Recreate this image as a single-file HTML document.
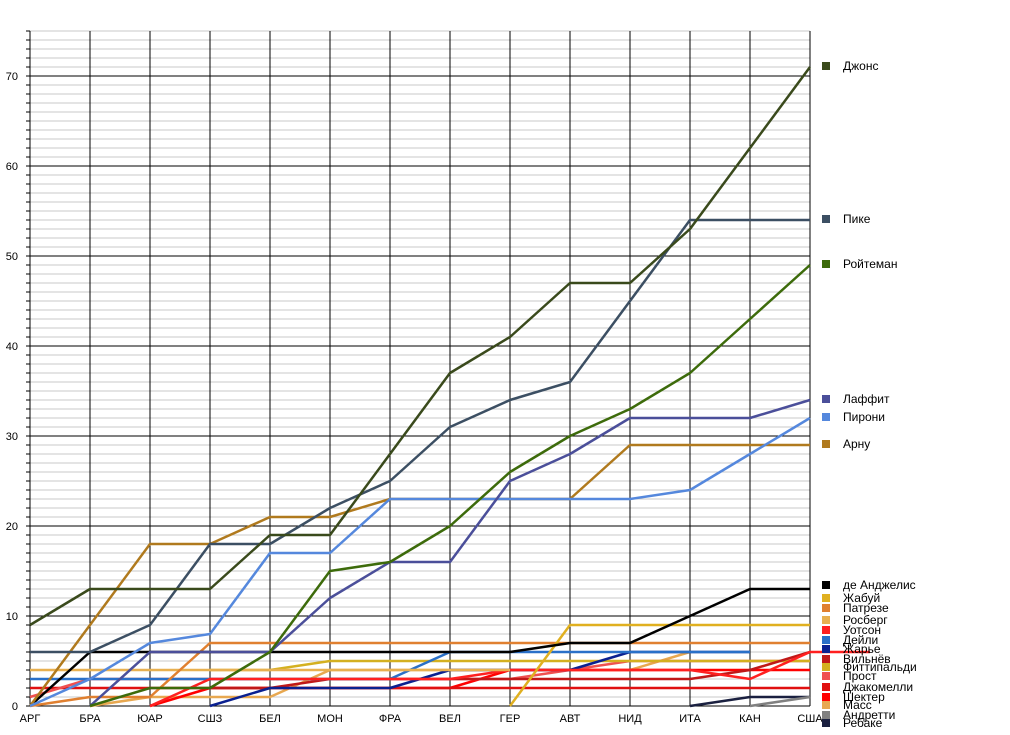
<!DOCTYPE html>
<html><head><meta charset="utf-8"><style>
html,body{margin:0;padding:0;background:#fff;}
svg{display:block;font-family:"Liberation Sans",sans-serif;}
</style></head><body>
<svg id="c" width="1010" height="735" xmlns="http://www.w3.org/2000/svg">
<g id="grid" shape-rendering="crispEdges"></g><g id="series"></g><g id="labels" font-size="11" fill="#000"></g>
<g id="legend" font-size="12" fill="#000"></g>
</svg>
<script>
const NS="http://www.w3.org/2000/svg";
const X=i=>30+60*i, Y=v=>706-9*v;
function el(p,t,a,txt){const e=document.createElementNS(NS,t);for(const k in a)e.setAttribute(k,a[k]);if(txt!==undefined)e.textContent=txt;p.appendChild(e);return e;}
const g=document.getElementById('grid'),s=document.getElementById('series'),L=document.getElementById('labels'),lg=document.getElementById('legend');
for(let v=0;v<=75;v++){if(v%10)el(g,'line',{x1:30,x2:810,y1:Y(v),y2:Y(v),stroke:'#c8c8c8','stroke-width':1});}
for(let v=0;v<=70;v+=10){el(g,'line',{x1:30,x2:810,y1:Y(v),y2:Y(v),stroke:'#000','stroke-width':1});el(L,'text',{x:18,y:Y(v)+4,'text-anchor':'end'},String(v));}
for(let v=0;v<=75;v++)el(g,'line',{x1:26,x2:30,y1:Y(v),y2:Y(v),stroke:'#000'});
const cats=['АРГ','БРА','ЮАР','СШЗ','БЕЛ','МОН','ФРА','ВЕЛ','ГЕР','АВТ','НИД','ИТА','КАН','США'];
cats.forEach((c,i)=>{el(g,'line',{x1:X(i),x2:X(i),y1:31,y2:706,stroke:'#000'});el(L,'text',{x:X(i),y:722,'text-anchor':'middle'},c);});
el(g,'line',{x1:30,x2:30,y1:31,y2:706,stroke:'#000'});
const D=[
['Ребаке','#1a2040',11,[0,1,1],723],
['Андретти','#808080',12,[0,1],715],
['Масс','#e8a850',1,[0,1,1,1,4,4,4,4,4,4,6],705],
['Шектер','#ff0000',2,[0,2,2,2,2,2,4,4,4,4,4,4],697],
['Джакомелли','#e01010',0,[2,2,2,2,2,2,2,2,2,2,2,2,2,2],687],
['Прост','#f05050',0,[1,3,3,3,3,3,3,3,3,4,5,5,5,5],676],
['Фиттипальди','#d4b020',3,[4,4,5,5,5,5,5,5,5,5,5],667],
['Вильнёв','#c01818',3,[2,2,3,3,3,3,3,3,3,4,6],659],
['Жарье','#0a2090',3,[0,2,2,2,4,4,4,6,6,6],649],
['Дейли','#2a70c8',0,[3,3,3,3,3,3,3,6,6,6,6,6,6],640],
['Уотсон','#ff2020',2,[0,3,3,3,3,3,4,4,4,4,3,6,6],630],
['Росберг','#e8b050',0,[4,4,4,4,4,4,4,4,4],620],
['Патрезе','#e08030',0,[0,1,1,7,7,7,7,7,7,7,7,7,7,7],608],
['Жабуй','#e0b020',8,[0,9,9,9,9,9],598],
['де Анджелис','#000000',0,[0,6,6,6,6,6,6,6,6,7,7,10,13,13],585],
['Арну','#b07a1e',0,[0,9,18,18,21,21,23,23,23,23,29,29,29,29],444],
['Пирони','#5588dd',0,[0,3,7,8,17,17,23,23,23,23,23,24,28,32],417],
['Лаффит','#4b4f9a',1,[0,6,6,6,12,16,16,25,28,32,32,32,34],399],
['Ройтеман','#3d6b0b',1,[0,2,2,6,15,16,20,26,30,33,37,43,49],264],
['Пике','#3c4f63',0,[6,6,9,18,18,22,25,31,34,36,45,54,54,54],219],
['Джонс','#3a4a1c',0,[9,13,13,13,19,19,28,37,41,47,47,53,62,71],66]
];
D.forEach(([n,c,st,vals,ly])=>{
 el(s,'polyline',{points:vals.map((v,i)=>X(st+i)+','+Y(v)).join(' '),fill:'none',stroke:c,'stroke-width':2.5,'stroke-linejoin':'round'});
 el(lg,'rect',{x:822,y:ly-4,width:8,height:8,fill:c});
 el(lg,'text',{x:843,y:ly+4},n);
});
</script>
</body></html>
